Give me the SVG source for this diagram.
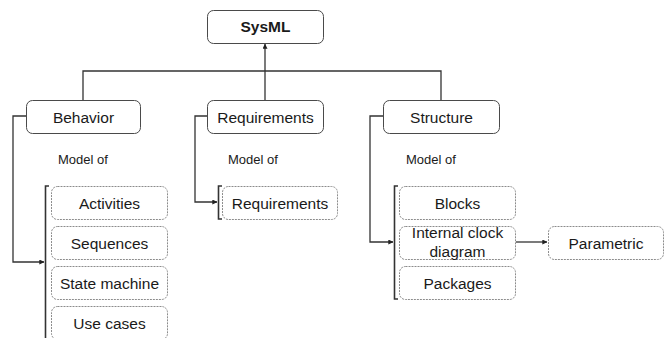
<svg xmlns="http://www.w3.org/2000/svg" width="665" height="338" viewBox="0 0 665 338">
  <style>
    .main { fill: #ffffff; stroke: #4a4a4a; stroke-width: 1; }
    .item { fill: #ffffff; stroke: #8c8c8c; stroke-width: 1; stroke-dasharray: 2 1; }
    .label { font-family: "Liberation Sans", Arial, sans-serif; font-size: 15.5px; fill: #1a1a1a; text-anchor: middle; }
    .title { font-weight: bold; }
    .note { font-family: "Liberation Sans", Arial, sans-serif; font-size: 13px; fill: #1a1a1a; }
    .wire { fill: none; stroke: #333333; stroke-width: 1.3; }
    .brace { fill: none; stroke: #333333; stroke-width: 1.6; }
  </style>
  <defs>
    <marker id="arrow" viewBox="0 0 8 8" refX="7.5" refY="4" markerWidth="5" markerHeight="5" orient="auto" markerUnits="userSpaceOnUse">
      <path d="M0,0 L8,4 L0,8 z" fill="#222222"/>
    </marker>
  </defs>

  <rect width="665" height="338" fill="#ffffff"/>

  <!-- connectors -->
  <g id="connectors">
    <polyline class="wire" points="83,100 83,71 441,71 441,100"/>
    <line class="wire" x1="265" y1="100" x2="265" y2="44" marker-end="url(#arrow)"/>
    <polyline class="wire" points="26,116 13,116 13,262 44,262" marker-end="url(#arrow)"/>
    <polyline class="wire" points="207,116 195,116 195,202 217,202" marker-end="url(#arrow)"/>
    <polyline class="wire" points="383,116 370,116 370,242 393,242" marker-end="url(#arrow)"/>
    <line class="wire" x1="516" y1="242" x2="547" y2="242" marker-end="url(#arrow)"/>
    <!-- grouping brackets -->
    <polyline class="brace" points="49,186 45.5,186 45.5,338"/>
    <polyline class="brace" points="222,186 218.5,186 218.5,219 222,219"/>
    <polyline class="brace" points="398,186 394.5,186 394.5,299 398,299"/>
  </g>

  <g id="sysml">
    <rect class="main" x="207.5" y="10.5" width="116" height="33" rx="6"/>
    <text class="label title" x="265.5" y="32">SysML</text>
  </g>

  <g id="behavior">
    <rect class="main" x="26.5" y="100.5" width="114" height="33" rx="6"/>
    <text class="label" x="83.5" y="123">Behavior</text>
    <text class="note" x="58" y="164">Model of</text>
  </g>

  <g id="requirements">
    <rect class="main" x="207.5" y="100.5" width="116" height="33" rx="6"/>
    <text class="label" x="265.5" y="123">Requirements</text>
    <text class="note" x="228" y="164">Model of</text>
  </g>

  <g id="structure">
    <rect class="main" x="383.5" y="100.5" width="116" height="33" rx="6"/>
    <text class="label" x="441.5" y="123">Structure</text>
    <text class="note" x="406" y="164">Model of</text>
  </g>

  <g id="activities">
    <rect class="item" x="51.5" y="186.5" width="116" height="33" rx="6"/>
    <text class="label" x="109.5" y="208.5">Activities</text>
  </g>
  <g id="sequences">
    <rect class="item" x="51.5" y="226.5" width="116" height="33" rx="6"/>
    <text class="label" x="109.5" y="248.5">Sequences</text>
  </g>
  <g id="state-machine">
    <rect class="item" x="51.5" y="266.5" width="116" height="33" rx="6"/>
    <text class="label" x="109.5" y="288.5">State machine</text>
  </g>
  <g id="use-cases">
    <rect class="item" x="51.5" y="306.5" width="116" height="33" rx="6"/>
    <text class="label" x="109.5" y="328.5">Use cases</text>
  </g>

  <g id="requirements-item">
    <rect class="item" x="222.5" y="186.5" width="115" height="33" rx="6"/>
    <text class="label" x="280" y="208.5">Requirements</text>
  </g>

  <g id="blocks">
    <rect class="item" x="399.5" y="186.5" width="116" height="33" rx="6"/>
    <text class="label" x="457.5" y="208.5">Blocks</text>
  </g>
  <g id="internal-clock-diagram">
    <rect class="item" x="399.5" y="226.5" width="116" height="33" rx="6"/>
    <text class="label" x="457.5" y="238">Internal clock</text>
    <text class="label" x="457.5" y="257">diagram</text>
  </g>
  <g id="packages">
    <rect class="item" x="399.5" y="266.5" width="116" height="33" rx="6"/>
    <text class="label" x="457.5" y="288.5">Packages</text>
  </g>
  <g id="parametric">
    <rect class="item" x="548.5" y="226.5" width="115" height="33" rx="6"/>
    <text class="label" x="606" y="248.5">Parametric</text>
  </g>
</svg>
